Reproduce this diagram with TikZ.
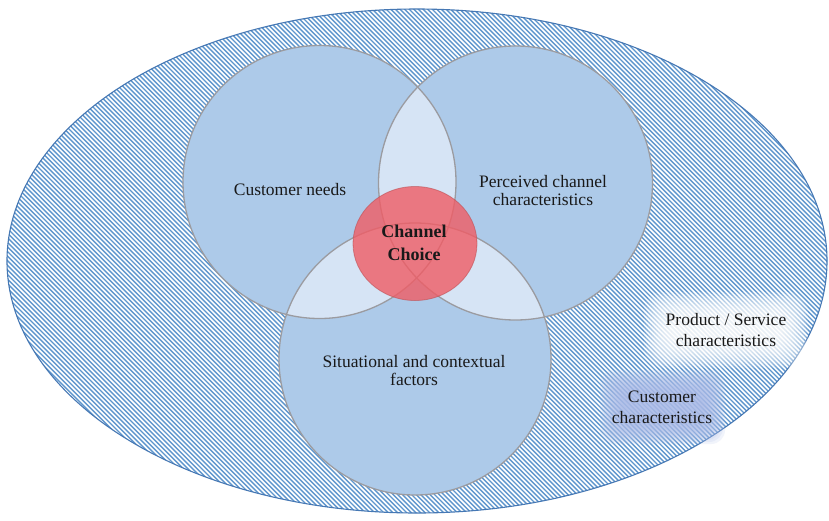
\documentclass[tikz,border=0pt]{standalone}
\usepackage{fontspec}
\setmainfont{Liberation Serif}
\definecolor{hatchblue}{RGB}{95,150,205}
\definecolor{rimblue}{RGB}{70,120,180}
\definecolor{circfill}{RGB}{173,202,233}
\definecolor{lensfill}{RGB}{214,228,245}
\definecolor{circline}{RGB}{155,155,160}
\definecolor{choicered}{RGB}{240,92,100}
\definecolor{choiceline}{RGB}{190,80,85}
\definecolor{custbox}{RGB}{172,188,232}
\definecolor{txt}{RGB}{25,25,25}
\tikzset{
  circlabel/.style={align=center,inner sep=0pt,text=txt,font=\fontsize{17.5}{18}\selectfont},
  outerlabel/.style={align=center,inner sep=0pt,text=txt,font=\fontsize{17.5}{21}\selectfont},
  ringline/.style={draw=circline,line width=1.3pt},
  hatchline/.style={draw=hatchblue,line width=1.4pt},
}
\begin{document}
\begin{tikzpicture}[x=1pt,y=-1pt]
\useasboundingbox (0,0) rectangle (829,520);
\fill[white] (0,0) rectangle (829,520);
\coordinate (E) at (417,261);
\coordinate (L) at (319.5,182);
\coordinate (R) at (515.5,183);
\coordinate (B) at (415,359);
\coordinate (C) at (415,243.5);
% outer hatched ellipse
\begin{scope}
\clip (E) ellipse[x radius=410pt,y radius=252pt];
\foreach \k in {-520,-515.4,...,830}
  \draw[hatchline] (\k,0) -- ({\k+520},520);
\end{scope}
\draw[rimblue,line width=1.1pt] (E) ellipse[x radius=410pt,y radius=252pt];
% soft glow boxes
\foreach \i in {0,...,13}
  \fill[white,opacity=0.14,rounded corners=18pt]
    ({644+2*\i},{292+2*\i}) rectangle ({808-2*\i},{368-2*\i});
\foreach \i in {0,...,11}
  \fill[custbox,opacity=0.16,rounded corners=14pt]
    ({600+2*\i},{370+2*\i}) rectangle ({725-2*\i},{444-2*\i});
% circles
\fill[circfill] (L) circle[radius=136.5pt];
\fill[circfill] (R) circle[radius=137pt];
\fill[circfill] (B) circle[radius=136pt];
% pairwise overlaps
\begin{scope}\clip (L) circle[radius=136.5pt]; \fill[lensfill] (R) circle[radius=137pt];\end{scope}
\begin{scope}\clip (L) circle[radius=136.5pt]; \fill[lensfill] (B) circle[radius=136pt];\end{scope}
\begin{scope}\clip (R) circle[radius=137pt]; \fill[lensfill] (B) circle[radius=136pt];\end{scope}
% outlines
\draw[ringline] (L) circle[radius=136.5pt];
\draw[ringline] (R) circle[radius=137pt];
\draw[ringline] (B) circle[radius=136pt];
% channel choice
\fill[choicered,fill opacity=0.8] (C) ellipse[x radius=62pt,y radius=57pt];
\draw[choiceline,line width=0.8pt,opacity=0.6] (C) ellipse[x radius=62pt,y radius=57pt];
% labels
\node[circlabel] (needs) at (290,190) {Customer needs};
\node[circlabel] (perceived) at (543,191) {Perceived channel\\characteristics};
\node[circlabel] (situ) at (414,371) {Situational and contextual\\factors};
\node[circlabel,font=\fontsize{18}{23}\selectfont\bfseries] (choice) at (414,243) {Channel\\Choice};
\node[outerlabel] (product) at (726,330) {Product / Service\\characteristics};
\node[outerlabel] (custchar) at (662,407) {Customer\\characteristics};
\end{tikzpicture}
\end{document}
